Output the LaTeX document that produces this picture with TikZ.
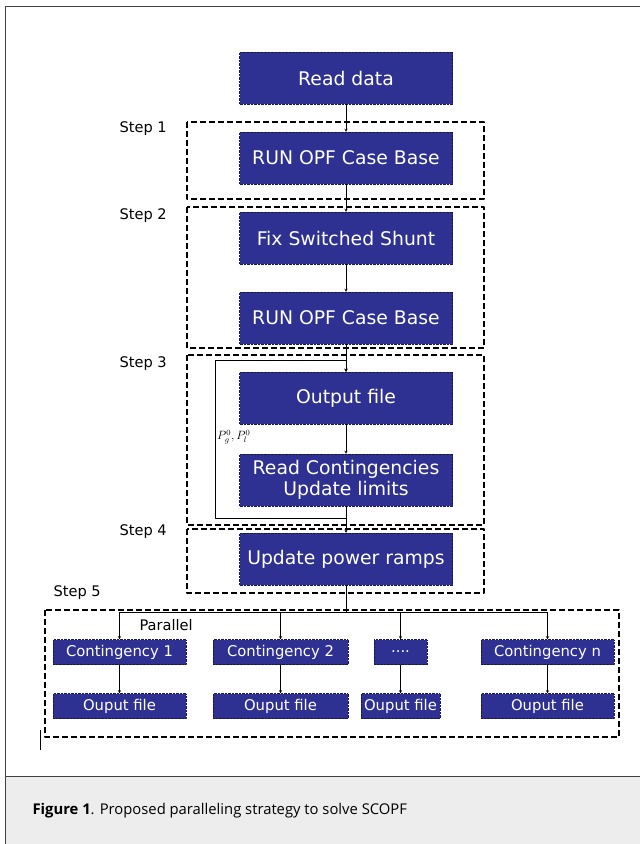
\documentclass[tikz,border=0pt]{standalone}
\usepackage{fontspec}
\setmainfont{DejaVu Sans}
\newfontfamily\capfont{Open Sans}
\definecolor{boxblue}{HTML}{2E3192}
\begin{document}
\begin{tikzpicture}[x=1pt,y=-1pt,>=stealth,line join=round,
  blk/.style={fill=boxblue,draw=boxblue!50!black,densely dotted,text=white,minimum width=213pt,minimum height=52pt,inner sep=0pt,align=center,font=\fontsize{18.8}{20}\selectfont},
  sblk/.style={blk,minimum height=25pt,minimum width=133pt,font=\fontsize{14.8}{16}\selectfont},
  stepbox/.style={draw,dash pattern=on 6pt off 3pt,line width=1.1pt},
  lbl/.style={font=\fontsize{14.6}{16}\selectfont,anchor=west}]
\useasboundingbox (0,0) rectangle (640,844);
\fill[black!7] (5,776) rectangle (640,844);
\draw[line width=1pt,black!75] (640,6)--(5,6)--(5,844) (5,776)--(640,776);

% steps
\draw[stepbox] (187,122) rectangle (484,199);
\draw[stepbox] (187,207) rectangle (484,348);
\draw[stepbox] (187,355) rectangle (484,525);
\draw[stepbox] (187,529) rectangle (484,593);
\draw[stepbox] (45,610) rectangle (619,737);
\node[lbl] (s1) at (116,129) {Step 1};
\node[lbl] (s2) at (116,216) {Step 2};
\node[lbl] (s3) at (116,364) {Step 3};
\node[lbl] (s4) at (116,532) {Step 4};
\node[lbl] (s5) at (50,593) {Step 5};
\node[lbl] (par) at (136,625) {Parallel};

% sequence
\node[blk] (read) at (346,78) {Read data};
\node[blk] (opfa) at (346,158) {RUN OPF Case Base};
\node[blk] (fix) at (346,238) {Fix Switched Shunt};
\node[blk] (opfb) at (346,318) {RUN OPF Case Base};
\node[blk] (out) at (346,398) {Output file};
\node[blk,font=\fontsize{18.8}{20.5}\selectfont] (rc) at (346,480) {Read Contingencies\\Update limits};
\node[blk] (upr) at (346,559) {Update power ramps};
\draw[->] (read) -- (opfa);
\draw[->] (opfa) -- (fix);
\draw[->] (fix) -- (opfb);
\draw[->] (opfb) -- (out);
\draw[->] (out) -- (rc);
\draw[->] (rc) -- (upr);
\draw[->] (rc.south) -- ++(0,12) -| (215,360) -| (out.north);
\node[anchor=west,font=\fontsize{11.5}{13}\selectfont,inner sep=1pt] (pg) at (216,437) {$P_g^0,P_l^0$};

% parallel
\node[sblk,minimum width=133pt] (c1) at (119.5,652) {Contingency 1};
\node[sblk,minimum width=135pt] (c2) at (280.5,652) {Contingency 2};
\node[sblk,minimum width=53pt] (cd) at (400.5,652) {....};
\node[sblk,minimum width=133pt] (cn) at (547.5,652) {Contingency n};
\node[sblk,minimum width=133pt] (oc1) at (119.5,706) {Ouput file};
\node[sblk,minimum width=135pt] (oc2) at (280.5,706) {Ouput file};
\node[sblk,minimum width=79pt] (ocd) at (400.5,706) {Ouput file};
\node[sblk,minimum width=133pt] (ocn) at (547.5,706) {Ouput file};
\coordinate (bus) at (346,612);
\draw (upr) -- (bus);
\draw (c1.north |- bus) -- (cn.north |- bus);
\foreach \n in {c1,c2,cd,cn}{
  \draw[->] (\n.north |- bus) -- (\n.north);
  \draw[->] (\n) -- (o\n);
}
\draw[line width=1pt] (40,730) -- (40,750);

\node[anchor=west,font=\capfont\fontsize{14.8}{17}\selectfont] (cap) at (29,811) {\textbf{Figure 1}. Proposed paralleling strategy to solve SCOPF};
\end{tikzpicture}
\end{document}
